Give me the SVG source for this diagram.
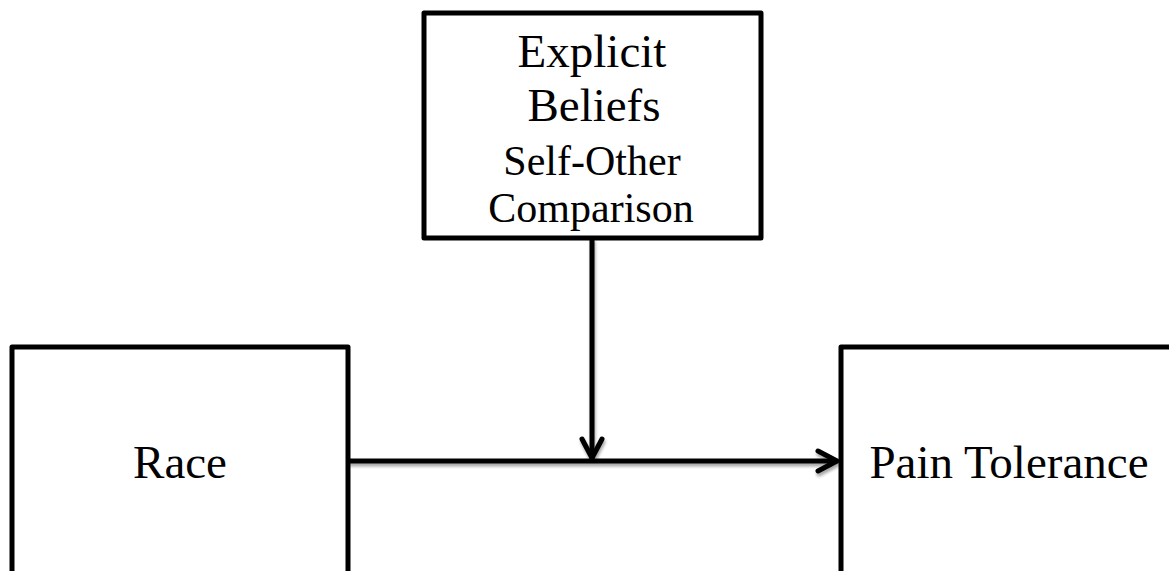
<svg xmlns="http://www.w3.org/2000/svg" width="1169" height="571" viewBox="0 0 1169 571">
<style>
.box{fill:#fff;stroke:#000;stroke-width:5;stroke-linejoin:round}
.t{font-family:"Liberation Serif","Times New Roman",serif;fill:#000;text-anchor:middle}
.big{font-size:47px}
.sm{font-size:42px}
.conn{fill:none;stroke:#000;stroke-width:5;stroke-linecap:round;stroke-linejoin:round}
</style>
<defs>
<filter id="sh" x="-10%" y="-50%" width="120%" height="200%">
<feGaussianBlur in="SourceAlpha" stdDeviation="1.5"/>
<feOffset dx="1" dy="3" result="b"/>
<feComponentTransfer><feFuncA type="linear" slope="0.35"/></feComponentTransfer>
<feMerge><feMergeNode/><feMergeNode in="SourceGraphic"/></feMerge>
</filter>
</defs>
<rect width="1169" height="571" fill="#fff"/>
<g id="explicit-beliefs">
<rect class="box" x="424" y="13" width="337" height="225"/>
<text class="t big" x="592" y="67">Explicit</text>
<text class="t big" x="594" y="121">Beliefs</text>
<text class="t sm" x="592" y="175">Self-Other</text>
<text class="t sm" x="591" y="222">Comparison</text>
</g>
<g id="race">
<rect class="box" x="12" y="347" width="336" height="240"/>
<text class="t big" x="180" y="478">Race</text>
</g>
<g id="pain-tolerance">
<rect class="box" x="841" y="347" width="340" height="240"/>
<text class="t big" x="1009" y="478">Pain Tolerance</text>
</g>
<g id="connectors" filter="url(#sh)">
<path class="conn" d="M350 461 H836"/>
<path class="conn" d="M818 451 L837 461 L818 471"/>
<path class="conn" d="M592 240 V458"/>
<path class="conn" d="M582 439 L592 458 L602 439"/>
</g>
</svg>
